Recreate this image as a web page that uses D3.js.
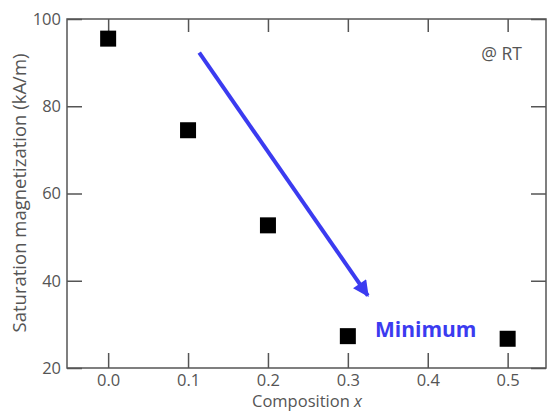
<!DOCTYPE html>
<html>
<head>
<meta charset="utf-8">
<script src="https://cdn.jsdelivr.net/npm/d3@7"></script>
<style>
  body { margin: 0; background: #fff; }
  text { font-family: "Open Sans", "Noto Sans", sans-serif; }
</style>
</head>
<body>
<div id="chart"></div>
<script>
const compositions = [0.0, 0.1, 0.2, 0.3, 0.5];
const magnetization = [95.5, 74.5, 52.7, 27.3, 26.7];
const xTicks = [0.0, 0.1, 0.2, 0.3, 0.4, 0.5];
const yTicks = [20, 40, 60, 80, 100];
// arrow annotation, data coordinates [x, y]
const arrowFrom = [0.114, 92.3];
const arrowTo = [0.325, 36.6];

const width = 547, height = 412;
const margin = {top: 19, right: 1, bottom: 44, left: 67};

const svg = d3.select('#chart').append('svg')
              .attr('width', width)
              .attr('height', height);

const x = d3.scaleLinear()
            .domain([-0.0515, 0.548])
            .range([margin.left, width - margin.right]);
const y = d3.scaleLinear()
            .domain([20, 100])
            .range([height - margin.bottom, margin.top]);

const axisColor = '#555';
const tickLen = 15;

// frame
svg.append('rect')
   .attr('x', x.range()[0]).attr('y', y.range()[1])
   .attr('width', x.range()[1] - x.range()[0])
   .attr('height', y.range()[0] - y.range()[1])
   .attr('fill', 'none')
   .attr('stroke', axisColor)
   .attr('stroke-width', 1.5);

function styleAxis(g) {
    g.select('.domain').remove();
    g.selectAll('.tick line').attr('stroke', axisColor).attr('stroke-width', 1.5);
    g.selectAll('.tick text').attr('fill', '#555').style('font-size', '16.5px');
}

svg.append('g')
   .attr('transform', `translate(0,${y(20)})`)
   .call(d3.axisBottom(x).tickValues(xTicks).tickFormat(d3.format('.1f'))
           .tickSizeInner(-tickLen).tickPadding(6))
   .call(styleAxis);

svg.append('g')
   .attr('transform', `translate(0,${y(100)})`)
   .call(d3.axisTop(x).tickValues(xTicks).tickFormat('').tickSizeInner(-13))
   .call(styleAxis);

svg.append('g')
   .attr('transform', `translate(${x.range()[0]},0)`)
   .call(d3.axisLeft(y).tickValues(yTicks).tickSizeInner(-tickLen).tickPadding(6))
   .call(styleAxis);

svg.append('g')
   .attr('transform', `translate(${x.range()[1]},0)`)
   .call(d3.axisRight(y).tickValues(yTicks).tickFormat('').tickSizeInner(-tickLen))
   .call(styleAxis);

// axis titles
const xt = svg.append('text')
   .attr('x', 307).attr('y', 407)
   .attr('text-anchor', 'middle')
   .attr('fill', '#555')
   .style('font-size', '16.5px');
xt.append('tspan').text('Composition ');
xt.append('tspan').attr('font-style', 'italic').text('x');

svg.append('text')
   .attr('transform', `translate(26,193) rotate(-90)`)
   .attr('text-anchor', 'middle')
   .attr('fill', '#555')
   .style('font-size', '18.5px')
   .text('Saturation magnetization (kA/m)');

// points
const sq = 16;
svg.append('g').selectAll('rect')
   .data(compositions.map((c, i) => [c, magnetization[i]]))
   .enter().append('rect')
   .attr('x', d => x(d[0]) - sq / 2)
   .attr('y', d => y(d[1]) - sq / 2)
   .attr('width', sq).attr('height', sq)
   .attr('fill', '#000');

// arrow
const blue = '#3b3bf0';
svg.append('defs').append('marker')
   .attr('id', 'head')
   .attr('viewBox', '0 0 10 10')
   .attr('refX', 9).attr('refY', 5)
   .attr('markerWidth', 5).attr('markerHeight', 4)
   .attr('markerUnits', 'strokeWidth')
   .attr('orient', 'auto')
   .append('path')
   .attr('d', 'M0,0 L10,5 L0,10 z')
   .attr('fill', blue);

svg.append('line')
   .attr('x1', x(arrowFrom[0])).attr('y1', y(arrowFrom[1]))
   .attr('x2', x(arrowTo[0])).attr('y2', y(arrowTo[1]))
   .attr('stroke', blue)
   .attr('stroke-width', 4)
   .attr('marker-end', 'url(#head)');

svg.append('text')
   .attr('x', 375).attr('y', 337)
   .attr('fill', blue)
   .attr('font-weight', 'bold')
   .style('font-size', '21px')
   .text('Minimum');

svg.append('text')
   .attr('x', 522).attr('y', 60)
   .attr('text-anchor', 'end')
   .attr('fill', '#555')
   .style('font-size', '17.5px')
   .text('@ RT');
</script>
</body>
</html>
